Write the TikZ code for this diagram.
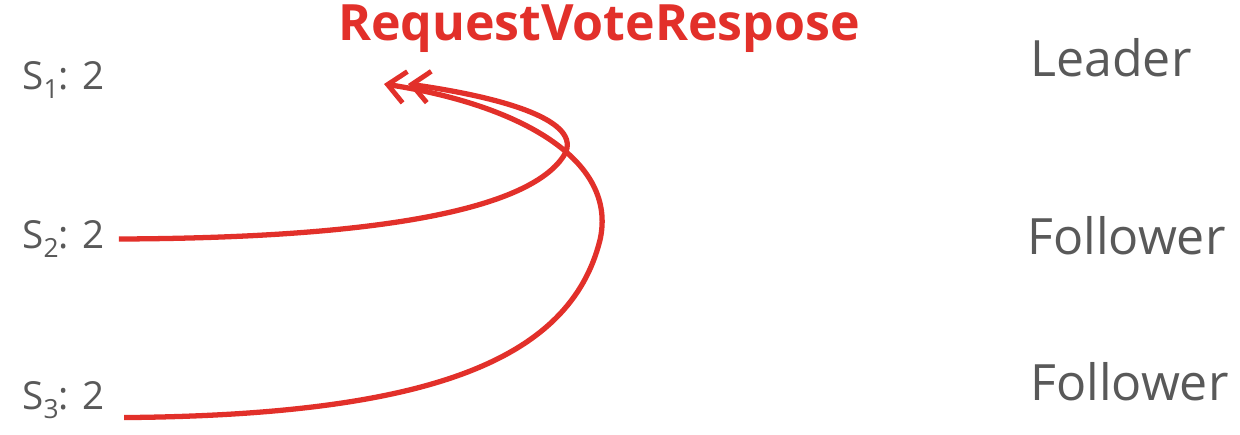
\documentclass[tikz,border=0pt]{standalone}
\usepackage{fontspec}
\setmainfont{Open Sans}
\usetikzlibrary{arrows.meta}
\definecolor{msgred}{HTML}{E2302A}
\definecolor{txtgray}{HTML}{595959}
\newcommand{\srvsub}[1]{\raisebox{-0.45ex}{\fontsize{15}{18}\selectfont #1}}
\tikzset{
  server/.style={text=txtgray, font=\fontsize{22}{26}\selectfont, inner sep=0pt, anchor=west},
  role/.style={text=txtgray, font=\fontsize{28.5}{34}\selectfont, inner sep=0pt, anchor=west},
  reply/.style={draw=msgred, line width=3pt, -{Straight Barb[length=10pt,width=18pt,line width=2.8pt]}}
}
\begin{document}
\begin{tikzpicture}[x=0.02cm,y=-0.02cm]
\useasboundingbox (0,0) rectangle (1240,435);
\node [text=msgred, font=\fontsize{28.5}{34}\selectfont\bfseries, inner sep=0pt] (title) at (599,29) {RequestVoteRespose};
\node [server] (s1) at (22,80) {S\srvsub{1}: 2};
\node [server] (s2) at (22,239) {S\srvsub{2}: 2};
\node [server] (s3) at (22,400) {S\srvsub{3}: 2};
\node [role] (r1) at (1030,58) {Leader};
\node [role] (r2) at (1027,236) {Follower};
\node [role] (r3) at (1030,382) {Follower};
\coordinate (tipa) at (384,84);
\coordinate (tipb) at (408,84);
\draw [reply] ([xshift=8pt]s2.east) .. controls (400,238) and (530,205) .. (563,157)
  .. controls (585,125) and (520,100) .. (tipb);
\draw [reply] ([xshift=11pt,yshift=-10pt]s3.east) .. controls (430,415) and (570,360) .. (600,240)
  .. controls (618,160) and (520,105) .. (tipa);
\end{tikzpicture}
\end{document}
